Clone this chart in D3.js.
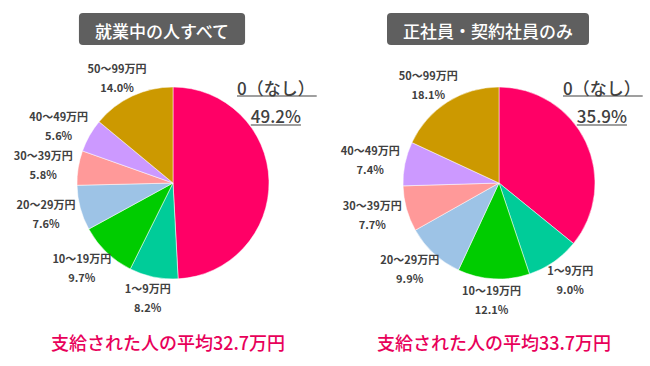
<!DOCTYPE html>
<html><head><meta charset="utf-8">
<script src="https://cdn.jsdelivr.net/npm/d3@7"></script>
<style>
html,body{margin:0;padding:0;background:#fff;}
svg{display:block;font-family:"Noto Sans CJK JP","Noto Sans",sans-serif;}
</style></head>
<body>
<svg id="chart" width="650" height="366"></svg>
<script>
const categories = ["0（なし）","1～9万円","10～19万円","20～29万円","30～39万円","40～49万円","50～99万円"];
const allWorkers = [49.2, 8.2, 9.7, 7.6, 5.8, 5.6, 14.0];
const regularWorkers = [35.9, 9.0, 12.1, 9.9, 7.7, 7.4, 18.1];
const titles = ["就業中の人すべて", "正社員・契約社員のみ"];
const averages = [32.7, 33.7];
const colors = ["#ff0066","#00cc99","#00cc00","#9dc3e6","#ff9999","#cc99ff","#cc9900"];

const svg = d3.select("#chart");
const panels = [
  {title: titles[0], values: allWorkers, avg: averages[0], cx: 173},
  {title: titles[1], values: regularWorkers, avg: averages[1], cx: 499}
];
const cy = 183, r = 96;
const color = d3.scaleOrdinal().domain(categories).range(colors);
const pie = d3.pie().sort(null).value(d => d.v);
const arc = d3.arc().innerRadius(0).outerRadius(r);

panels.forEach(p => {
  const g = svg.append("g");
  // title box
  const tg = g.append("g");
  const tt = tg.append("text").attr("x", p.cx - 11).attr("y", 30)
    .attr("text-anchor","middle").attr("dominant-baseline","central")
    .attr("fill","#fff").attr("font-size",17).attr("font-weight",500).text(p.title);
  const tb = tt.node().getBBox();
  tg.insert("rect","text").attr("x", tb.x - 16).attr("y", 13)
    .attr("width", tb.width + 32).attr("height", 32).attr("rx", 4).attr("fill","#5f5f5f");

  const data = categories.map((c,i) => ({c, v: p.values[i]}));
  const arcs = pie(data);
  const pg = g.append("g").attr("transform", `translate(${p.cx},${cy})`);
  pg.selectAll("path").data(arcs).join("path")
    .attr("d", arc).attr("fill", d => color(d.data.c))
    .attr("stroke","#fff").attr("stroke-width",0.5);

  // outside labels
  arcs.forEach((a,i) => {
    if (i === 0) return;
    const ang = (a.startAngle + a.endAngle) / 2;
    const lg = g.append("g").attr("fill","#404040").attr("font-size",11).attr("font-weight",700);
    const t1 = lg.append("text").attr("text-anchor","middle").attr("dominant-baseline","central").text(a.data.c);
    const t2 = lg.append("text").attr("text-anchor","middle").attr("dominant-baseline","central").text(a.data.v.toFixed(1) + "%");
    const w = Math.max(t1.node().getBBox().width, t2.node().getBBox().width);
    const h = 30, gap = 6;
    const x = p.cx + Math.sin(ang) * (r + gap + w / 2);
    const y = cy - Math.cos(ang) * (r + gap + h / 2);
    t1.attr("x", x).attr("y", y - 9.5);
    t2.attr("x", x).attr("y", y + 9.5);
  });

  // big label for first slice
  const a0 = arcs[0];
  const bl = g.append("g").attr("fill","#404040").attr("font-size",17).attr("font-weight",500);
  const b1 = bl.append("text").attr("x", p.cx + 64).attr("y", cy - 96)
    .attr("dominant-baseline","central").text(a0.data.c);
  const bb1 = b1.node().getBBox();
  const mx = bb1.x + bb1.width / 2;
  const b2 = bl.append("text").attr("x", mx).attr("y", cy - 68)
    .attr("text-anchor","middle").attr("dominant-baseline","central").text(a0.data.v.toFixed(1) + "%");
  const bb2 = b2.node().getBBox();
  bl.append("line").attr("x1", bb1.x).attr("x2", bb1.x + bb1.width + 2)
    .attr("y1", cy - 87).attr("y2", cy - 87).attr("stroke","#404040").attr("stroke-width",1.2);
  bl.append("line").attr("x1", bb2.x).attr("x2", bb2.x + bb2.width)
    .attr("y1", cy - 58).attr("y2", cy - 58).attr("stroke","#404040").attr("stroke-width",1.2);

  // footer
  g.append("text").attr("x", p.cx - 5).attr("y", 342).attr("text-anchor","middle")
    .attr("dominant-baseline","central").attr("fill","#e8005a")
    .attr("font-size",18).attr("font-weight",500)
    .text("支給された人の平均" + p.avg.toFixed(1) + "万円");
});
</script>
</body></html>
